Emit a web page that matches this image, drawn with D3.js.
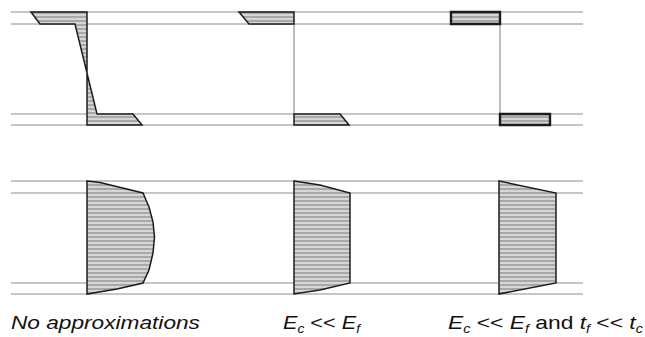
<!DOCTYPE html>
<html>
<head>
<meta charset="utf-8">
<script src="https://cdn.jsdelivr.net/npm/d3@7/dist/d3.min.js"></script>
<style>
  html, body { margin: 0; padding: 0; background: #fff; }
  svg { display: block; }
  text { font-family: "Liberation Sans", Arial, sans-serif; fill: #111; }
</style>
</head>
<body>
<svg id="chart" width="645" height="337"></svg>
<script>
// Sandwich section: depth of face / core interfaces (top face, core, bottom face)
const depthLevels = [0, 12, 102, 113];

// Normal (bending) stress through the depth: [depth, stress]
const normalExact      = [[0, -56], [12, -47], [12, -12], [102, 10], [102, 46], [113, 55]];
const normalSoftTop    = [[0, -55], [12, -45]];
const normalSoftBottom = [[102, 46], [113, 55]];
const normalThinTop    = [[0, -49], [12, -49]];
const normalThinBottom = [[102, 50], [113, 50]];

// Shear stress through the depth: [depth, shear]
const shearExact = [[0, 0], [1.5, 13], [12, 56], [26, 62], [41, 66], [56, 67.5],
                    [72, 66], [89, 62], [102, 56], [108, 30], [113, 0]];
const shearSoft  = [[0, 0], [4, 26], [12, 56], [102, 56], [109, 26], [113, 0]];
const shearThin  = [[0, 0], [12, 57], [102, 57], [113, 0]];

// Column captions
const captions = [
  [{t: "No approximations", i: true}],
  [{t: "E", i: true}, {t: "c", i: true, sub: true}, {t: " << "}, {t: "E", i: true}, {t: "f", i: true, sub: true}],
  [{t: "E", i: true}, {t: "c", i: true, sub: true}, {t: " << "}, {t: "E", i: true}, {t: "f", i: true, sub: true},
   {t: " and "}, {t: "t", i: true}, {t: "f", i: true, sub: true}, {t: " << "}, {t: "t", i: true}, {t: "c", i: true, sub: true}]
];

// ---- layout ----
const svg = d3.select("#chart");
const columnAxis = [87, 294, 500];
const captionBox = [[11, 189], [283, 77], [448, 195]];
const lineX = [11, 583];

const defs = svg.append("defs");
const pat = defs.append("pattern")
  .attr("id", "hatch").attr("patternUnits", "userSpaceOnUse")
  .attr("width", 6).attr("height", 4);
pat.append("rect").attr("width", 6).attr("height", 4).attr("fill", "#d6d6d6");
pat.append("rect").attr("width", 6).attr("height", 2).attr("fill", "#a8a8a8");

const yTop = d3.scaleLinear().domain([0, 113]).range([12, 125]);
const yBot = d3.scaleLinear().domain([0, 113]).range([181, 294]);
const xCol = cx => d3.scaleLinear().domain([-60, 60]).range([cx - 60, cx + 60]);

// horizontal section lines
[yTop, yBot].forEach(y => {
  svg.append("g").selectAll("line").data(depthLevels).join("line")
    .attr("x1", lineX[0]).attr("x2", lineX[1])
    .attr("y1", d => y(d)).attr("y2", d => y(d))
    .attr("stroke", "#c6c6c6").attr("stroke-width", 2);
});

function drawArea(data, x, y, sw) {
  const area = d3.area()
    .y(d => y(d[0]))
    .x0(x(0))
    .x1(d => x(d[1]))
    .curve(d3.curveLinear);
  svg.append("path").datum(data)
    .attr("d", area)
    .attr("fill", "url(#hatch)")
    .attr("stroke", "#1c1c1c")
    .attr("stroke-width", sw)
    .attr("stroke-linejoin", "miter");
}

function coreLine(x, y) {
  svg.append("line")
    .attr("x1", x(0)).attr("x2", x(0))
    .attr("y1", y(depthLevels[1])).attr("y2", y(depthLevels[2]))
    .attr("stroke", "#a8a8a8").attr("stroke-width", 1.5);
}

// normal stress row
const x0 = xCol(columnAxis[0]), x1 = xCol(columnAxis[1]), x2 = xCol(columnAxis[2]);
drawArea(normalExact, x0, yTop, 1.5);
coreLine(x1, yTop);
drawArea(normalSoftTop, x1, yTop, 1.5);
drawArea(normalSoftBottom, x1, yTop, 1.5);
coreLine(x2, yTop);
drawArea(normalThinTop, x2, yTop, 2.4);
drawArea(normalThinBottom, x2, yTop, 2.4);

// shear stress row
drawArea(shearExact, x0, yBot, 1.5);
drawArea(shearSoft, x1, yBot, 1.5);
drawArea(shearThin, xCol(499), yBot, 1.5);

// captions
captions.forEach((parts, k) => {
  const g = svg.append("g");
  const t = g.append("text").attr("x", 0).attr("y", 0).attr("font-size", 19);
  parts.forEach(p => {
    t.append("tspan")
      .attr("font-style", p.i ? "italic" : "normal")
      .attr("font-size", p.sub ? 12 : 19)
      .attr("dy", p.sub ? 4 : 0)
      .text(p.t)
      .each(function () { if (p.sub) this.__sub = true; });
  });
  // restore baseline after each subscript
  t.selectAll("tspan").each(function (d, i, nodes) {
    if (i > 0 && nodes[i - 1].__sub && !this.__sub) d3.select(this).attr("dy", -4);
    if (i > 0 && nodes[i - 1].__sub && this.__sub) d3.select(this).attr("dy", 0);
  });
  const w = t.node().getComputedTextLength();
  const [bx, bw] = captionBox[k];
  g.attr("transform", `translate(${bx},329) scale(${bw / w},1)`);
});
</script>
</body>
</html>
